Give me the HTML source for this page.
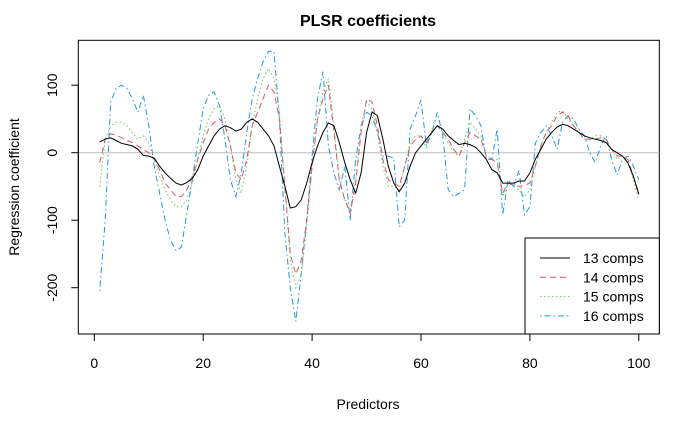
<!DOCTYPE html>
<html><head><meta charset="utf-8"><style>
body{margin:0;background:#fff}
svg{display:block;font-family:"Liberation Sans",Arial,sans-serif}
</style></head><body>
<svg id="c" width="700" height="432" viewBox="0 0 700 432">
<text x="368" y="26" text-anchor="middle" font-weight="bold" font-size="16">PLSR coefficients</text>
<text x="368" y="409" text-anchor="middle" font-size="14">Predictors</text>
<text transform="translate(19,187) rotate(-90)" text-anchor="middle" font-size="14">Regression coefficient</text>
<rect x="78.3" y="40.3" width="581" height="293.7" fill="none" stroke="#000"/>
<g id="axes"></g>
<g id="series"></g>
<g id="legend"></g>
</svg>
<script>
const xTicks=[0,20,40,60,80,100];
const yTicks=[100,0,-100,-200];
const seriesNames=["13 comps","14 comps","15 comps","16 comps"];
const s13=[16,20,22,18,14,12,10,5,-4,-5,-8,-20,-30,-38,-45,-48,-44,-38,-25,-5,10,25,35,40,37,32,35,45,50,45,35,25,10,-20,-50,-82,-80,-70,-45,-15,10,30,44,40,15,-15,-40,-60,-30,30,60,55,20,-20,-45,-58,-45,-20,0,10,20,30,40,35,25,18,12,14,12,8,0,-10,-25,-30,-45,-45,-45,-42,-42,-30,-10,5,20,30,38,42,40,35,30,25,22,20,18,15,5,0,-5,-15,-35,-62];
const s14=[-15,20,28,26,22,18,15,10,5,0,-10,-25,-45,-55,-65,-65,-55,-35,-10,15,35,45,50,40,10,-30,-40,-10,40,60,80,100,90,50,-50,-150,-180,-160,-100,-20,50,80,100,30,-40,-70,-90,-45,30,80,75,40,-10,-40,-45,-50,-20,10,20,25,15,30,40,30,20,5,-5,15,30,25,20,-5,-10,-15,-60,-45,-48,-50,-48,-45,-20,10,30,40,55,60,55,40,30,20,20,20,22,20,5,-5,-5,-10,-35,-60];
const s15=[-50,20,40,45,45,40,30,20,25,15,-10,-35,-55,-70,-80,-80,-70,-45,-10,25,50,65,70,50,10,-40,-60,-20,40,80,110,125,110,60,-50,-160,-200,-180,-110,-20,50,90,110,40,-40,-70,-85,-40,40,75,65,30,-20,-50,-50,-55,-20,15,25,25,5,35,40,30,15,0,-5,20,45,35,25,-5,-10,-10,-65,-45,-50,-55,-65,-55,-20,10,30,45,60,62,50,40,30,20,20,25,25,20,5,-10,-5,-15,-40,-70];
const s16=[-205,-100,75,95,100,95,80,60,85,40,-20,-60,-100,-130,-145,-140,-90,-40,15,65,85,90,70,20,-40,-65,-30,30,80,110,135,150,150,50,-120,-200,-250,-180,-100,-5,80,120,10,-30,-55,-20,-100,-10,40,60,55,30,-5,-5,-8,-110,-100,35,55,78,10,30,60,25,-55,-65,-60,-55,65,55,40,-10,-10,35,-92,-40,-50,-26,-92,-80,14,30,40,25,5,45,55,50,35,25,0,-15,10,25,-10,-33,-10,-5,-20,-40];
const ns="http://www.w3.org/2000/svg";
const X=v=>94.3+5.445*v, Y=v=>152.7-0.675*v;
function mk(t,a,p){const e=document.createElementNS(ns,t);for(const k in a)e.setAttribute(k,a[k]);p.appendChild(e);return e;}
const ax=document.getElementById('axes');
const zl=mk('line',{x1:78.3,x2:659.3,y1:Y(0),y2:Y(0),stroke:'#BEBEBE'},ax);


mk('line',{x1:X(0),x2:X(100),y1:334,y2:334,stroke:'#000'},ax);
xTicks.forEach(t=>{
 const l=mk('line',{x1:X(t),x2:X(t),y1:334,y2:341,stroke:'#000'},ax);
 
 
 const tx=mk('text',{x:X(t),y:368,'text-anchor':'middle','font-size':14},ax);tx.textContent=t;
 
 
});
mk('line',{x1:78.3,x2:78.3,y1:Y(100),y2:Y(-200),stroke:'#000'},ax);
yTicks.forEach(t=>{
 const l=mk('line',{x1:71.3,x2:78.3,y1:Y(t),y2:Y(t),stroke:'#000'},ax);
 
 
 const tx=mk('text',{transform:`translate(57,${Y(t)}) rotate(-90)`,'text-anchor':'middle','font-size':14},ax);tx.textContent=t;
 
 
});
const styles=[{c:'#000',d:''},{c:'#DF536B',d:'6,4'},{c:'#61D04F',d:'1.5,2.5'},{c:'#2297E6',d:'1.5,3,6,3'}];
const data=[s13,s14,s15,s16];
const sg=document.getElementById('series');
[3,2,1,0].forEach(i=>{
 const pts=data[i].map((v,j)=>X(j+1).toFixed(1)+','+Y(v).toFixed(1)).join(' ');
 const p=mk('polyline',{points:pts,fill:'none',stroke:styles[i].c,'stroke-width':1,'stroke-dasharray':styles[i].d},sg);
 
 
});
const lg=document.getElementById('legend');
const box=mk('rect',{x:525,y:238,width:134.3,height:96,fill:'#fff',stroke:'#000'},lg);


seriesNames.forEach((n,i)=>{
 const y=258+i*19.3;
 mk('line',{x1:540,x2:570,y1:y,y2:y,stroke:styles[i].c,'stroke-dasharray':styles[i].d},lg);
 const t=mk('text',{x:583,y:y+5,'font-size':14},lg);t.textContent=n;
 
 
});
</script>
</body></html>
